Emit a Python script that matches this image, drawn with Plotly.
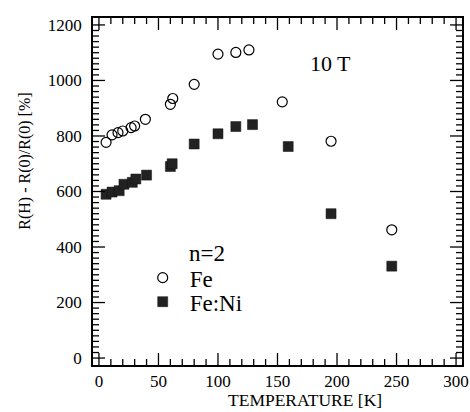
import plotly.graph_objects as go

# Data
fe_T = [6, 11, 16, 20, 27, 30, 39, 60, 62, 80, 100, 115, 126, 154, 195, 246]
fe_R = [777, 804, 812, 818, 830, 836, 860, 914, 935, 986, 1095, 1101, 1110, 923, 781, 462]

feni_T = [6, 11, 17, 21, 28, 31, 40, 60, 61.5, 80, 100, 115, 129, 159, 195, 246]
feni_R = [590, 598, 603, 626, 633, 645, 659, 690, 700, 771, 808, 834, 841, 762, 520, 331]

x_range = [-5, 305]
y_range = [-25, 1225]
x_major_step, x_minor_step, x_max_tick = 50, 10, 300
y_major_step, y_minor_step, y_max_tick = 200, 20, 1200

FONT = "Liberation Serif"
MAJOR_LEN, MINOR_LEN = 12, 6  # pixels

# plot area size in pixels (figure size minus margins)
W, H = 470, 412
ML, MR, MT, MB = 93, 8, 18, 47
px_x = (x_range[1] - x_range[0]) / (W - ML - MR)   # data units per pixel along x
px_y = (y_range[1] - y_range[0]) / (H - MT - MB)   # data units per pixel along y

fig = go.Figure()
fig.add_trace(go.Scatter(
    x=fe_T, y=fe_R, mode="markers", name="Fe", legend="legend",
    marker=dict(symbol="circle-open", size=10, color="black", line=dict(width=1.2, color="black")),
))
fig.add_trace(go.Scatter(
    x=feni_T, y=feni_R, mode="markers", name="Fe:Ni", legend="legend2",
    marker=dict(symbol="square", size=10, color="#222222", line=dict(width=0.5, color="#111111")),
))

# Inside tick marks on all four sides, drawn as short line segments on the axis scales
tx, ty = [], []
for t in range(0, x_max_tick + 1, x_minor_step):
    L = (MAJOR_LEN if t % x_major_step == 0 else MINOR_LEN) * px_y
    tx += [t, t, None, t, t, None]
    ty += [y_range[0], y_range[0] + L, None, y_range[1], y_range[1] - L, None]
for t in range(0, y_max_tick + 1, y_minor_step):
    L = (MAJOR_LEN if t % y_major_step == 0 else MINOR_LEN) * px_x
    tx += [x_range[0], x_range[0] + L, None, x_range[1], x_range[1] - L, None]
    ty += [t, t, None, t, t, None]
fig.add_trace(go.Scatter(
    x=tx, y=ty, mode="lines", line=dict(color="black", width=1.3),
    hoverinfo="skip", showlegend=False, connectgaps=False,
))

legend_common = dict(
    xanchor="left", yanchor="middle", bgcolor="rgba(0,0,0,0)",
    font=dict(family=FONT, size=23, color="black"),
    borderwidth=0, itemwidth=44,
)

fig.update_layout(
    width=W, height=H,
    margin=dict(l=ML, r=MR, t=MT, b=MB, autoexpand=False),
    paper_bgcolor="white", plot_bgcolor="white",
    font=dict(family=FONT, size=17, color="black"),
    showlegend=True,
    legend=dict(x=0.1157, y=0.2516, **legend_common),
    legend2=dict(x=0.1157, y=0.1824, **legend_common),
    xaxis=dict(
        range=x_range, tickmode="linear", tick0=0, dtick=x_major_step,
        showline=True, linecolor="black", linewidth=1.5, mirror=True,
        ticks="", showgrid=False, zeroline=False,
        tickfont=dict(family=FONT, size=17, color="black"),
    ),
    yaxis=dict(
        range=y_range, tickmode="linear", tick0=0, dtick=y_major_step,
        showline=True, linecolor="black", linewidth=1.5, mirror=True,
        ticks="", showgrid=False, zeroline=False, ticklabelstandoff=6,
        tickfont=dict(family=FONT, size=17, color="black"),
    ),
    annotations=[
        dict(text="10 T", x=(330 - ML) / 369, y=(365 - 63) / 347, xref="paper", yref="paper",
             xanchor="center", yanchor="middle",
             showarrow=False, font=dict(family=FONT, size=22, color="black")),
        dict(text="n=2", x=(187 - ML) / 369, y=(365 - 254) / 347, xref="paper", yref="paper",
             xanchor="left", yanchor="middle",
             showarrow=False, font=dict(family=FONT, size=23, color="black")),
        dict(text="TEMPERATURE [K]", x=(305 - ML) / 369, y=(365 - 400) / 347, xref="paper", yref="paper",
             xanchor="center", yanchor="middle", showarrow=False,
             font=dict(family=FONT, size=17.5, color="black")),
        dict(text="R(H) - R(0)/R(0) [%]", x=(25 - ML) / 369, y=(365 - 161.7) / 347,
             xref="paper", yref="paper", xanchor="center", yanchor="middle",
             showarrow=False, textangle=-90,
             font=dict(family=FONT, size=16, color="black")),
    ],
)

fig.write_html(
    "out.html",
    config={"displayModeBar": False},
    post_script="document.body.style.margin='0';document.body.style.overflow='hidden';",
)
